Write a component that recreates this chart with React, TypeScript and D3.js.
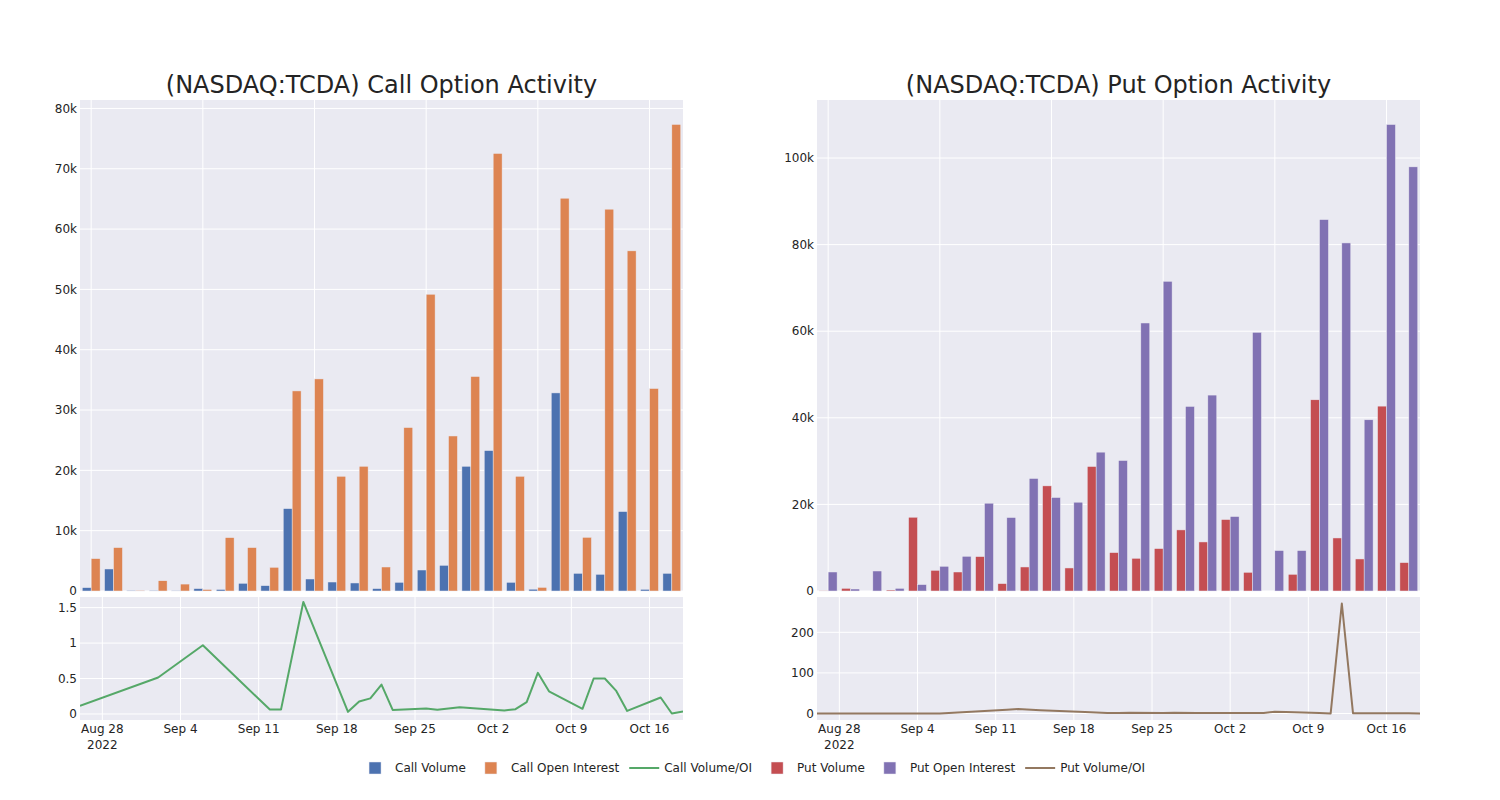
import React, { useEffect, useRef } from "react";
import * as d3 from "d3";

const dates = [
  "2022-08-26", "2022-09-02", "2022-09-06", "2022-09-12", "2022-09-13", "2022-09-15",
  "2022-09-19", "2022-09-20", "2022-09-21", "2022-09-22", "2022-09-23", "2022-09-26",
  "2022-09-27", "2022-09-29", "2022-10-03", "2022-10-04", "2022-10-05", "2022-10-06",
  "2022-10-07", "2022-10-10", "2022-10-11", "2022-10-12", "2022-10-13", "2022-10-14",
  "2022-10-17", "2022-10-18", "2022-10-19",
];

const callVolume = [
  560, 3650, 110, 105, 70, 400, 260, 1280, 890, 13660, 1990, 1490, 1330, 400, 1440, 3480,
  4260, 20680, 23280, 1440, 300, 32840, 2930, 2770, 13170, 280, 2930,
];
const callOpenInterest = [
  5370, 7200, 115, 1700, 1150, 253, 8850, 7200, 3930, 33170, 35160, 19020, 20680, 3980,
  27100, 49200, 25700, 35560, 72540, 19020, 600, 65120, 8900, 63300, 56390, 33570, 77350,
];
const callVolOI = [
  0.114, 0.515, 0.97, 0.062, 0.062, 1.58, 0.03, 0.176, 0.22, 0.414, 0.057, 0.076, 0.06,
  0.095, 0.05, 0.068, 0.167, 0.58, 0.32, 0.073, 0.5, 0.5, 0.33, 0.043, 0.233, 0.006, 0.035,
];

const putVolume = [
  40, 620, 0, 230, 17040, 4780, 4390, 7950, 1710, 5550, 24280, 5320, 28760, 8870, 7560,
  9800, 14110, 11330, 16510, 4320, 0, 3860, 44160, 12250, 7400, 42700, 6560,
];
const putOpenInterest = [
  4390, 460, 4620, 620, 1480, 5710, 8020, 20280, 16970, 25990, 21590, 20510, 32070, 30140,
  61900, 71530, 42630, 45250, 17200, 59740, 9340, 9340, 85780, 80390, 39540, 107740, 97960,
];
const putVolOI = [
  0.3, 0.3, 0.3, 9, 11, 8, 3.5, 2.5, 1.5, 1, 2, 1.5, 2, 1, 1, 1, 1, 4.5, 3.5, 1.5, 0.2,
  271, 0.8, 0.5, 0.5, 0.4, 0.2,
];

const callTopTicks = [0, 10000, 20000, 30000, 40000, 50000, 60000, 70000, 80000];
const callBottomTicks = [0, 0.5, 1, 1.5];
const putTopTicks = [0, 20000, 40000, 60000, 80000, 100000];
const putBottomTicks = [0, 100, 200];

const legendItems = [
  { label: "Call Volume", kind: "bar", color: "#4C72B0" },
  { label: "Call Open Interest", kind: "bar", color: "#DD8452" },
  { label: "Call Volume/OI", kind: "line", color: "#55A868" },
  { label: "Put Volume", kind: "bar", color: "#C44E52" },
  { label: "Put Open Interest", kind: "bar", color: "#8172B3" },
  { label: "Put Volume/OI", kind: "line", color: "#937860" },
];

const FONT = "'DejaVu Sans', Verdana, sans-serif";
const TEXT = "rgb(36,36,36)";
const BG = "#EAEAF2";

const parse = d3.timeParse("%Y-%m-%d");

type PanelCfg = {
  x0: number;
  x1: number;
  title: string;
  vol: number[];
  oi: number[];
  ratio: number[];
  volColor: string;
  oiColor: string;
  lineColor: string;
  topMax: number;
  topTicks: number[];
  botDomain: [number, number];
  botTicks: number[];
  id: string;
};

const kFmt = (v: number) => (v === 0 ? "0" : `${v / 1000}k`);

function drawPanel(svg: d3.Selection<SVGSVGElement, unknown, null, undefined>, c: PanelCfg) {
  const topY0 = 100;
  const topY1 = 591;
  const botY0 = 597;
  const botY1 = 720;
  const g = svg.append("g");

  g.append("text")
    .attr("x", (c.x0 + c.x1) / 2)
    .attr("y", 93)
    .attr("text-anchor", "middle")
    .attr("font-family", FONT)
    .attr("font-size", 24)
    .attr("fill", TEXT)
    .text(c.title);

  // ---------- top bar panel ----------
  const xBand = d3.scaleBand<string>().domain(dates).range([c.x0, c.x1]).paddingInner(0.2).paddingOuter(0.1);
  const xSub = d3.scaleBand<string>().domain(["vol", "oi"]).range([0, xBand.bandwidth()]).padding(0);
  const yTop = d3.scaleLinear().domain([0, c.topMax]).range([topY1, topY0]);

  g.append("rect").attr("x", c.x0).attr("y", topY0).attr("width", c.x1 - c.x0).attr("height", topY1 - topY0).attr("fill", BG);

  dates.forEach((d, i) => {
    if (i % 5 === 0) {
      const x = (xBand(d) as number) + xBand.bandwidth() / 2;
      g.append("line").attr("x1", x).attr("x2", x).attr("y1", topY0).attr("y2", topY1).attr("stroke", "white").attr("stroke-width", 1);
    }
  });
  c.topTicks.forEach((t) => {
    const y = yTop(t);
    g.append("line").attr("x1", c.x0).attr("x2", c.x1).attr("y1", y).attr("y2", y).attr("stroke", "white").attr("stroke-width", 1);
    g.append("text")
      .attr("x", c.x0 - 3)
      .attr("y", y + 4.2)
      .attr("text-anchor", "end")
      .attr("font-family", FONT)
      .attr("font-size", 12)
      .attr("fill", TEXT)
      .text(kFmt(t));
  });

  const bars = g.append("g");
  dates.forEach((d, i) => {
    const bx = xBand(d) as number;
    [
      { key: "vol", v: c.vol[i], col: c.volColor },
      { key: "oi", v: c.oi[i], col: c.oiColor },
    ].forEach((b) => {
      const y = yTop(b.v);
      bars
        .append("rect")
        .attr("x", bx + (xSub(b.key) as number))
        .attr("y", y)
        .attr("width", xSub.bandwidth())
        .attr("height", Math.max(0, topY1 - y))
        .attr("fill", b.col)
        .attr("stroke", BG)
        .attr("stroke-width", 0.5);
    });
  });

  // ---------- bottom line panel ----------
  const parsed = dates.map((d) => parse(d) as Date);
  const xTime = d3.scaleTime().domain([parsed[0], parsed[parsed.length - 1]]).range([c.x0, c.x1]);
  const yBot = d3.scaleLinear().domain(c.botDomain).range([botY1, botY0]);

  g.append("rect").attr("x", c.x0).attr("y", botY0).attr("width", c.x1 - c.x0).attr("height", botY1 - botY0).attr("fill", BG);

  const weekTicks = xTime.ticks(d3.timeWeek.every(1) as d3.TimeInterval);
  const fmtDay = d3.timeFormat("%b %-d");
  weekTicks.forEach((t, i) => {
    const x = xTime(t);
    g.append("line").attr("x1", x).attr("x2", x).attr("y1", botY0).attr("y2", botY1).attr("stroke", "white").attr("stroke-width", 1);
    g.append("text")
      .attr("x", x)
      .attr("y", 733)
      .attr("text-anchor", "middle")
      .attr("font-family", FONT)
      .attr("font-size", 12)
      .attr("fill", TEXT)
      .text(fmtDay(t));
    if (i === 0) {
      g.append("text")
        .attr("x", x)
        .attr("y", 749)
        .attr("text-anchor", "middle")
        .attr("font-family", FONT)
        .attr("font-size", 12)
        .attr("fill", TEXT)
        .text(d3.timeFormat("%Y")(t));
    }
  });
  c.botTicks.forEach((t) => {
    const y = yBot(t);
    g.append("line").attr("x1", c.x0).attr("x2", c.x1).attr("y1", y).attr("y2", y).attr("stroke", "white").attr("stroke-width", 1);
    g.append("text")
      .attr("x", c.x0 - 3)
      .attr("y", y + 4.2)
      .attr("text-anchor", "end")
      .attr("font-family", FONT)
      .attr("font-size", 12)
      .attr("fill", TEXT)
      .text(String(t));
  });

  const clipId = `clip-${c.id}`;
  svg
    .append("clipPath")
    .attr("id", clipId)
    .append("rect")
    .attr("x", c.x0)
    .attr("y", botY0)
    .attr("width", c.x1 - c.x0)
    .attr("height", botY1 - botY0);

  const line = d3
    .line<number>()
    .x((_, i) => xTime(parsed[i]))
    .y((v) => yBot(v));
  g.append("path")
    .attr("d", line(c.ratio) as string)
    .attr("fill", "none")
    .attr("stroke", c.lineColor)
    .attr("stroke-width", 2)
    .attr("stroke-linejoin", "round")
    .attr("clip-path", `url(#${clipId})`);
}

function drawLegend(svg: d3.Selection<SVGSVGElement, unknown, null, undefined>) {
  const g = svg.append("g");
  const yc = 768;
  const items = legendItems.map((it) => {
    const t = g
      .append("text")
      .attr("font-family", FONT)
      .attr("font-size", 12)
      .attr("fill", TEXT)
      .attr("y", yc + 4.2)
      .text(it.label);
    const w = (t.node() as SVGTextElement).getComputedTextLength();
    return { ...it, t, w: 40 + w + 5 };
  });
  const total = d3.sum(items, (d) => d.w) - 5;
  let x = 750 - total / 2;
  items.forEach((it) => {
    if (it.kind === "bar") {
      g.append("rect")
        .attr("x", x + 20 - 6)
        .attr("y", yc - 6)
        .attr("width", 12)
        .attr("height", 12)
        .attr("fill", it.color)
        .attr("stroke", BG)
        .attr("stroke-width", 0.5);
    } else {
      g.append("line")
        .attr("x1", x + 5)
        .attr("x2", x + 35)
        .attr("y1", yc)
        .attr("y2", yc)
        .attr("stroke", it.color)
        .attr("stroke-width", 2);
    }
    it.t.attr("x", x + 40);
    x += it.w;
  });
}

export default function App() {
  const ref = useRef<SVGSVGElement>(null);
  useEffect(() => {
    if (!ref.current) return;
    const svg = d3.select(ref.current);
    svg.selectAll("*").remove();
    drawPanel(svg, {
      x0: 80,
      x1: 683,
      title: "(NASDAQ:TCDA) Call Option Activity",
      vol: callVolume,
      oi: callOpenInterest,
      ratio: callVolOI,
      volColor: "#4C72B0",
      oiColor: "#DD8452",
      lineColor: "#55A868",
      topMax: 81400,
      topTicks: callTopTicks,
      botDomain: [-0.085, 1.65],
      botTicks: callBottomTicks,
      id: "call",
    });
    drawPanel(svg, {
      x0: 817,
      x1: 1420,
      title: "(NASDAQ:TCDA) Put Option Activity",
      vol: putVolume,
      oi: putOpenInterest,
      ratio: putVolOI,
      volColor: "#C44E52",
      oiColor: "#8172B3",
      lineColor: "#937860",
      topMax: 113400,
      topTicks: putTopTicks,
      botDomain: [-16, 287],
      botTicks: putBottomTicks,
      id: "put",
    });
    drawLegend(svg);
  }, []);
  return (
    <svg
      ref={ref}
      width={1500}
      height={800}
      style={{ position: "absolute", left: 0, top: 0, background: "white" }}
    />
  );
}
